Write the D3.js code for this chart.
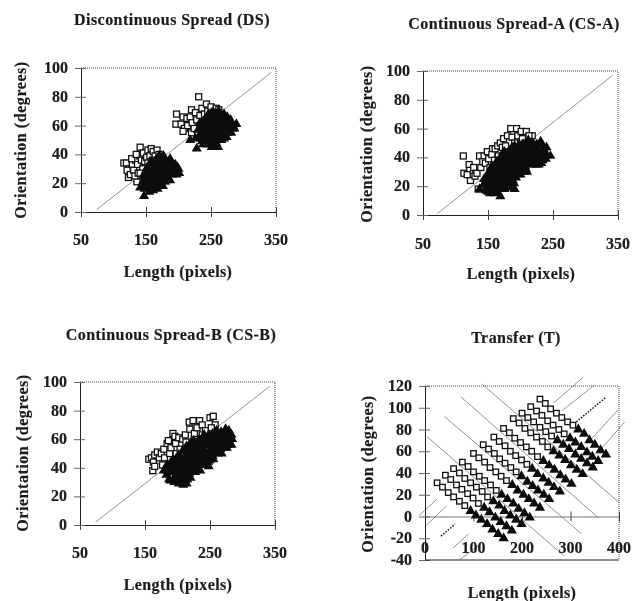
<!DOCTYPE html>
<html><head><meta charset="utf-8">
<script src="https://cdn.jsdelivr.net/npm/d3@7"></script>
<style>
html,body{margin:0;padding:0;background:#fff}
svg{display:block;filter:blur(0.35px)}
text{font-family:"Liberation Serif",serif;font-weight:bold;fill:#1c1c1c;stroke:#1c1c1c;stroke-width:0.2}
</style></head><body>
<svg id="c" width="643" height="601"></svg>
<script>
// ---- values: [length, orientation]
const dsSquares=[[116,34],[120,34],[124,30],[121,29],[123,24],[126,26],[129,33],[131,29],[134,36],[128,37],[136,21],[133,25],[138,27],[137,33],[140,39],[141,45],[143,36],[146,41],[148,35],[151,38],[153,43],[156,39],[158,44],[161,42],[160,36],[164,39],[167,43],[165,36],[170,40],[145,30],[141,27],[153,34],[135,40],
[231,80],[197,68],[196,61],[207,66],[204,61],[213,65],[209,58],[207,56],[214,60],[220,71],[218,66],[221,62],[220,55],[224,58],[226,69],[228,64],[233,67],[236,72],[240,68],[243,75],[245,70],[250,73],[255,70],[258,72],[262,71],[247,66],[237,62]];
const dsTriangles=[[147,11],[141,17],[148,16],[155,14],[161,15],[168,16],[152,19],[145,21],[159,19],[166,20],[173,19],[179,21],[146,25],[149,24],[156,24],[163,24],[170,24],[177,25],[184,24],[190,26],[197,26],[201,27],[150,29],[157,29],[164,29],[171,29],[178,29],[185,30],[192,30],[198,31],[155,33],[162,33],[169,33],[176,34],[183,34],[190,34],[195,33],[165,36],[172,38],[179,37],[187,37],
[144,18],[150,18],[157,18],[163,18],[170,18],[176,18],[148,22],[154,22],[161,22],[168,22],[175,22],[181,22],[187,22],[148,27],[153,27],[160,27],[167,27],[174,27],[181,27],[188,27],[195,28],[152,31],[159,31],[166,31],[173,31],[180,31],[187,31],[194,31],[158,35],[165,35],[172,35],[179,35],[186,35],[170,39],[177,39],[188,33],[200,30],
[218,50],[228,44],[251,45],[261,45],[289,61],[284,60],[280,64],[275,66],[270,68],[262,70],[254,69],[246,68],[240,64],[233,62],[230,57],[232,52],[236,49],[243,47],[250,50],[258,48],[266,50],[274,52],[281,55],[286,58],[236,55],[243,53],[250,56],[258,55],[265,56],[272,57],[278,60],[240,59],[247,61],[254,62],[262,62],[269,62],
[238,47],[246,47],[254,47],[226,51],[235,51],[242,51],[249,52],[256,51],[263,51],[270,51],[233,54],[240,54],[247,54],[254,54],[261,54],[268,54],[275,55],[234,58],[241,58],[248,58],[255,58],[262,58],[269,58],[276,58],[283,58],[236,61],[243,61],[250,61],[257,61],[264,61],[271,61],[278,62],[243,65],[250,65],[257,65],[264,65],[271,65],[250,68],[258,68],[266,67]];
const csaSquares=[[112,41],[113,29],[121,35],[122,31],[123,24],[118,28],[128,33],[130,27],[135,18],[133,29],[137,41],[139,33],[144,41],[142,37],[146,36],[149,44],[151,39],[153,33],[157,46],[156,42],[161,46],[160,38],[165,48],[166,41],[169,50],[172,47],[174,53],[177,48],[180,55],[185,60],[187,54],[191,50],[194,60],[196,55],[201,58],[203,53],[209,58],[207,50],[218,55],[213,55]];
const csaTriangles=[[137,18],[143,21],[147,17],[153,15],[160,15],[169,13],[166,18],[175,18],[182,21],[191,18],[188,24],[195,28],[205,30],[210,30],[212,36],[219,36],[225,35],[232,36],[239,39],[246,41],[240,47],[231,51],[226,46],[219,50],[212,52],[206,48],[200,46],[193,44],[187,47],[181,41],[175,37],[169,38],[163,33],[157,31],[152,30],[147,26],[153,24],[160,24],[167,26],[174,27],[181,29],[188,33],[195,36],[202,38],[209,41],[216,43],[223,41],[232,44],[160,18],[145,22],[171,22],[178,33],[185,39],[192,38],[200,33],[207,34],[165,30],[150,20],[215,47],[175,44],
[150,16],[157,16],[164,16],[148,19],[155,19],[162,19],[169,19],[176,19],[185,19],[146,22],[153,22],[158,22],[164,22],[177,22],[184,22],[190,22],[149,28],[156,28],[163,28],[170,28],[177,28],[184,28],[191,28],[160,31],[167,31],[174,31],[185,31],[192,31],[199,31],[165,35],[172,35],[179,35],[186,35],[199,35],[205,35],[215,35],[222,35],[228,35],[172,39],[179,39],[197,39],[204,39],[211,39],[218,39],[225,39],[232,39],[180,43],[187,43],[197,43],[204,43],[211,43],[220,43],[227,43],[236,43],[191,46],[213,46],[220,46],[236,46],[204,49],[211,49],[225,49],[233,49],
[172,25],[179,25],[186,26],[193,26],[200,28],[156,34],[163,37],[170,34],[177,31],[184,33],[191,34],[198,34],[205,38],[212,41],[219,41],[226,41],[233,41],[240,42],[170,41],[177,41],[184,37],[191,41],[198,41],[205,41],[184,45],[191,48],[198,49],[205,45],[213,42],[220,39],[227,38],[234,38],[171,26],[165,25],[158,25],[151,26],[144,25],[208,32],[201,36],[194,31],[188,29],[177,25]];
const csbSquares=[[156,46],[160,47],[163,44],[162,38],[165,41],[165,49],[169,51],[172,47],[175,50],[177,42],[179,53],[180,47],[184,57],[186,59],[188,50],[190,54],[193,64],[196,62],[197,57],[198,50],[202,61],[204,53],[208,60],[212,63],[213,58],[217,55],[219,67],[218,72],[224,73],[226,64],[230,68],[234,73],[238,70],[238,63],[243,66],[250,75],[255,76],[258,70],[252,68]];
const csbTriangles=[[179,38],[183,35],[189,31],[195,30],[202,29],[209,28],[214,29],[220,33],[227,37],[235,38],[242,42],[248,41],[255,46],[262,50],[268,50],[276,54],[283,56],[284,60],[283,63],[279,66],[274,67],[267,65],[260,66],[254,64],[247,62],[240,61],[234,60],[228,57],[221,58],[214,55],[208,52],[202,49],[197,46],[190,44],[184,42],[191,37],[198,36],[205,35],[212,35],[196,41],[203,42],[210,42],[217,42],[224,44],[231,44],[238,47],[245,49],[252,52],[259,55],[266,56],[273,58],[277,62],[210,47],[217,49],[224,50],[231,51],[238,54],[245,56],[252,58],[259,60],[266,60],[220,54],
[187,32],[194,32],[201,32],[208,32],[215,32],[184,38],[188,38],[194,38],[201,38],[208,38],[215,38],[222,38],[229,38],[193,45],[200,45],[207,45],[214,45],[221,45],[228,45],[235,45],[242,45],[249,45],[204,48],[212,48],[219,48],[226,48],[233,48],[240,48],[247,48],[254,48],[214,52],[221,52],[228,52],[235,52],[242,52],[249,52],[256,52],[263,52],[228,56],[235,56],[242,56],[248,56],[255,56],[262,56],[269,56],[276,56],[225,59],[232,59],[239,59],[246,59],[263,59],[270,59],[279,59],[241,63],[248,63],[256,63],[263,63],[270,63],[276,63],
[194,42],[201,40],[208,40],[215,40],[222,41],[229,41],[236,42],[186,41],[205,30],[212,31],[198,33],[205,33],[218,36],[225,40],[232,40],[240,44],[247,44],[253,49],[260,52],[266,53],[272,54],[279,56],[278,60],[272,62],[252,60],[258,62],[245,60],[236,57],[229,55],[222,55],[215,49],[209,46],[201,46]];
const tSquares=[[25,31],[36,27],[48,22],[59,18],[71,14],[82,10],
[42,38],[53,34],[65,29],[76,25],[88,21],[99,17],[110,12],
[59,44],[71,40],[82,35],[94,31],[106,27],[118,23],[129,18],
[77,50],[89,46],[100,41],[112,37],[123,33],[135,29],[147,24],
[100,58],[111,54],[123,50],[134,45],[146,41],[157,37],[168,33],
[120,66],[131,62],[143,58],[154,53],[165,49],[177,45],[188,41],
[142,73],[153,69],[165,65],[176,60],[187,56],[199,52],[210,48],
[162,81],[174,77],[185,72],[197,68],[209,64],[220,60],[232,55],
[182,90],[194,86],[206,81],[218,77],[230,73],[242,69],[253,64],
[200,95],[212,91],[224,87],[237,82],[249,78],[261,74],
[218,101],[230,97],[241,93],[253,88],[264,84],[276,80],[287,76],
[237,108],[248,104],[259,99],[271,95],[282,91],[294,87],[305,84]];
const tTriangles=[[94,5],[105,1],[116,-3],[128,-7],[139,-12],[151,-16],[162,-20],
[122,8],[133,4],[145,-1],[156,-5],[168,-9],[179,-13],
[141,14],[153,10],[164,5],[176,1],[188,-3],[199,-7],
[158,20],[170,16],[182,12],[193,7],[205,3],[216,-1],
[180,29],[191,24],[203,20],[214,16],[225,12],[237,8],
[199,37],[211,32],[222,28],[233,24],[245,20],[256,16],
[221,44],[232,39],[244,35],[255,31],[266,27],[278,23],
[244,51],[256,47],[267,43],[279,38],[290,34],[302,30],
[265,60],[277,56],[289,52],[301,47],[313,43],[325,39],
[273,70],[285,66],[297,62],[310,57],[322,53],[334,49],[346,45],
[299,72],[310,68],[322,64],[334,59],[345,55],[357,51],
[316,80],[328,76],[339,70],[350,66],[362,61],[373,57]];
const diagonal=[[74,1.6],[343,97]];
const csaDiagonal=[[72,1],[342,97]];
const csbDiagonal=[[74,2],[342,97]];
const tThinLines=[[[117,122],[400,13]],[[74,110],[357,-1]],[[40,92],[323,-16]],[[4,73.5],[286,-36]],
[[-12,1],[25,16]],[[264,104],[326,128]],[[3,-8],[45,10]],[[283,97.5],[350,121]],
[[57.5,-29],[90,-16]],[[336,68],[398,98]],[[71,-40],[114,-25.5]],[[359,60],[412,87]]];
const tDottedLines=[[[33,-18],[62,-7]],[[312,87],[374,110]]];
const spreadXTicks=[50,150,250,350];
const spreadYTicks=[0,20,40,60,80,100];
const transferXTicks=[0,100,200,300,400];
const transferYTicks=[-40,-20,0,20,40,60,80,100,120];

// ---- layout
const panels=[
 {title:"Discontinuous Spread (DS)",sq:dsSquares,tr:dsTriangles,lines:[diagonal],dots:[],
  l:81,r:276,t:68,b:212,xd:[50,350],yd:[0,100],xt:spreadXTicks,yt:spreadYTicks,tx:172,ty:25,xlx:178,xly:277,ylx:26,yly:140,tickY:245},
 {title:"Continuous Spread-A (CS-A)",sq:csaSquares,tr:csaTriangles,lines:[csaDiagonal],dots:[],
  l:423,r:618,t:71,b:215,xd:[50,350],yd:[0,100],xt:spreadXTicks,yt:spreadYTicks,tx:514,ty:29,xlx:521,xly:279,ylx:372,yly:144,tickY:249},
 {title:"Continuous Spread-B (CS-B)",sq:csbSquares,tr:csbTriangles,lines:[csbDiagonal],dots:[],
  l:80,r:275,t:382,b:525,xd:[50,350],yd:[0,100],xt:spreadXTicks,yt:spreadYTicks,tx:171,ty:340,xlx:178,xly:590,ylx:28,yly:453,tickY:558},
 {title:"Transfer (T)",sq:tSquares,tr:tTriangles,lines:tThinLines,dots:tDottedLines,
  l:425,r:619,t:386,b:560,xd:[0,400],yd:[-40,120],xt:transferXTicks,yt:transferYTicks,tx:516,ty:343,xlx:522,xly:598,ylx:373,yly:474,tickY:553,transfer:true}
];
const svg=d3.select("#c");
panels.forEach(p=>{
 const x=d3.scaleLinear().domain(p.xd).range([p.l,p.r]);
 const y=d3.scaleLinear().domain(p.yd).range([p.b,p.t]);
 const g=svg.append("g");
 g.append("path").attr("d",`M${p.l},${p.t}H${p.r}V${p.b}`).attr("fill","none").attr("stroke","#444").attr("stroke-dasharray","1 1");
 const ax=p.transfer?y(0):p.b;
 const xa=g.append("g").attr("transform",`translate(0,${ax})`).call(d3.axisBottom(x).tickValues(p.xt).tickSize(5).tickFormat(""));
 const ya=g.append("g").attr("transform",`translate(${p.l},0)`).call(d3.axisLeft(y).tickValues(p.yt).tickSize(6).tickFormat(""));
 xa.select(".domain").attr("stroke",p.transfer?"#777":"#222");
 ya.select(".domain").attr("stroke","#222");
 xa.selectAll("line").attr("y1",-5).attr("stroke","#444");
 ya.selectAll("line").attr("x1",5).attr("stroke","#666");
 if(p.transfer) g.append("line").attr("x1",p.l).attr("x2",p.r).attr("y1",p.b).attr("y2",p.b).attr("stroke","#222");
 const ln=d3.line().x(d=>x(d[0])).y(d=>y(d[1]));
 g.selectAll(".ln").data(p.lines).join("path").attr("class","ln").attr("d",ln).attr("fill","none").attr("stroke","#666").attr("stroke-width",0.7);
 g.selectAll(".dt").data(p.dots).join("path").attr("class","dt").attr("d",ln).attr("fill","none").attr("stroke","#111").attr("stroke-width",1.5).attr("stroke-dasharray","1.5 1.5");
 const ss=p.transfer?5.5:6, ts=p.transfer?46:44;
 g.selectAll(".sq").data(p.sq).join("rect").attr("class","sq").attr("x",d=>x(d[0])-ss/2).attr("y",d=>y(d[1])-ss/2).attr("width",ss).attr("height",ss).attr("fill","#fff").attr("stroke","#111").attr("stroke-width",1.3);
 const tri=d3.symbol().type(d3.symbolTriangle).size(ts);
 g.selectAll(".tr").data(p.tr).join("path").attr("class","tr").attr("d",tri).attr("transform",d=>`translate(${x(d[0])},${y(d[1])})`).attr("fill","#0c0c0c");
 // texts
 g.append("text").attr("x",p.tx).attr("y",p.ty).attr("text-anchor","middle").attr("font-size",16).attr("letter-spacing",0.45).text(p.title);
 g.append("text").attr("x",p.xlx).attr("y",p.xly).attr("text-anchor","middle").attr("font-size",16).attr("letter-spacing",0.4).text("Length (pixels)");
 g.append("text").attr("transform",`translate(${p.ylx},${p.yly}) rotate(-90)`).attr("text-anchor","middle").attr("font-size",16).attr("letter-spacing",0.55).text("Orientation (degrees)");
 g.selectAll(".xl").data(p.xt).join("text").attr("class","xl").attr("x",d=>x(d)).attr("y",p.tickY).attr("text-anchor","middle").attr("font-size",16).text(d=>d);
 g.selectAll(".yl").data(p.yt).join("text").attr("class","yl").attr("x",p.l-13).attr("y",d=>y(d)+5).attr("text-anchor","end").attr("font-size",16).text(d=>d);
});
</script></body></html>
